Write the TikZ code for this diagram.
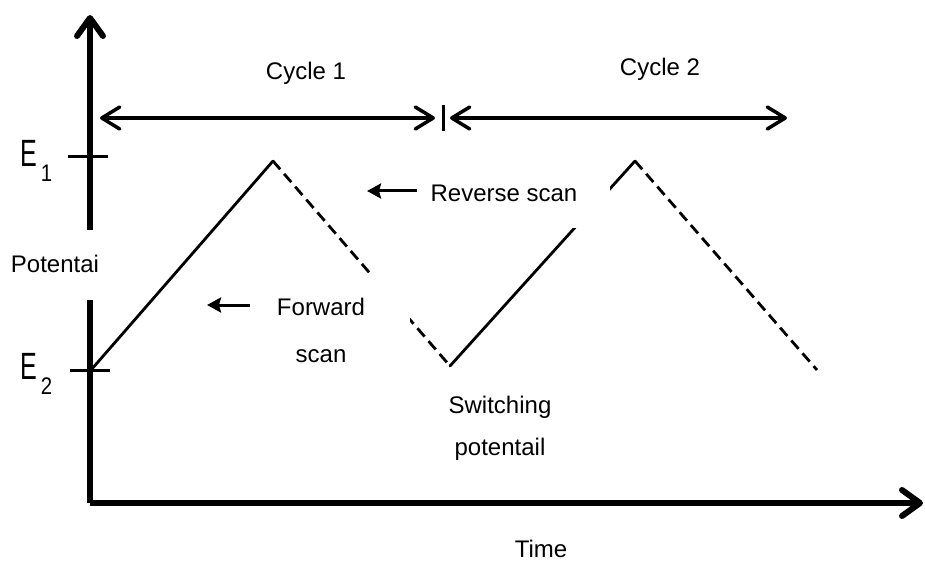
\documentclass[tikz,border=0pt]{standalone}
\usepackage{fontspec}
\setmainfont{Liberation Sans}
\usetikzlibrary{arrows.meta}

\tikzset{
  axisline/.style={line width=6pt, -{Straight Barb[length=18pt,width=26pt,round]}},
  tickline/.style={line width=3pt},
  cyclearrow/.style={line width=3.5pt, {Straight Barb[length=18pt,width=22pt,round]}-{Straight Barb[length=18pt,width=22pt,round]}},
  fwdscan/.style={line width=2.8pt, line cap=round},
  revscan/.style={line width=2.8pt, dash pattern=on 11pt off 6pt},
  pointer/.style={line width=3pt, -{Stealth[length=14pt,width=15pt,inset=2pt]}},
  lbl/.style={font=\fontsize{24}{28}\selectfont, inner sep=0pt, anchor=base},
  elabel/.style={font=\fontsize{38}{38}\selectfont, inner sep=0pt, anchor=base west}
}
% level label: tall narrow E with a lowered index
\newcommand{\levellabel}[1]{\scalebox{0.66}[1]{E}\hspace{4pt}\raisebox{-15pt}{\scalebox{0.85}[1]{\fontsize{24}{24}\selectfont #1}}}

\begin{document}
\begin{tikzpicture}[x=1pt, y=-1pt]
\useasboundingbox (0,0) rectangle (925,561);

% axes
\coordinate (O) at (90,503);
\coordinate (ytop) at (90,15);
\coordinate (xend) at (923,503);
\draw[axisline] (O) -- (ytop);
\draw[axisline] (O) -- (xend);

% potential levels
\coordinate (e1a) at (68,157);
\coordinate (e1b) at (108,157);
\coordinate (e2a) at (70,370);
\coordinate (e2b) at (110,370);
\draw[tickline] (e1a) -- (e1b);
\draw[tickline] (e2a) -- (e2b);

% triangular waveform
\coordinate (p0) at (91,370);
\coordinate (p1) at (273,161);
\coordinate (p2) at (450,366);
\coordinate (p3) at (635,161);
\coordinate (p4) at (817,370);
\draw[fwdscan] (p0) -- (p1);
\draw[revscan] (p1) -- (p2);
\draw[fwdscan] (p2) -- (p3);
\draw[revscan] (p3) -- (p4);

% cycle spans
\coordinate (c1a) at (100,118);
\coordinate (c1b) at (435,118);
\coordinate (c2a) at (450,118);
\coordinate (c2b) at (787,118);
\coordinate (sepT) at (443,105);
\coordinate (sepB) at (443,131);
\draw[cyclearrow] (c1a) -- (c1b);
\draw[cyclearrow] (c2a) -- (c2b);
\draw[line width=3pt] (sepT) -- (sepB);

% white label backgrounds
\fill[white] (5,230) rectangle (106,300);
\fill[white] (232,275) rectangle (410,378);
\fill[white] (420,165) rectangle (610,228);

% scan pointers
\coordinate (fsA) at (250,305);
\coordinate (fsB) at (207,305);
\coordinate (rsA) at (417,191);
\coordinate (rsB) at (367,191);
\draw[pointer] (fsA) -- (fsB);
\draw[pointer] (rsA) -- (rsB);

% labels
\node[lbl] (cyc1) at (306,80) {Cycle 1};
\node[lbl] (cyc2) at (660,76) {Cycle 2};
\node[lbl] (rev) at (504,202) {Reverse scan};
\node[lbl] (fwd1) at (321,315) {Forward};
\node[lbl] (fwd2) at (321,362) {scan};
\node[lbl] (sw1) at (500,413) {Switching};
\node[lbl] (sw2) at (500,455) {potentail};
\node[lbl] (time) at (541,557) {Time};
\node[lbl] (pot) at (55,272) {Potentai};
\node[elabel] (E1) at (20,167) {\levellabel{1}};
\node[elabel] (E2) at (20,379) {\levellabel{2}};
\end{tikzpicture}
\end{document}
